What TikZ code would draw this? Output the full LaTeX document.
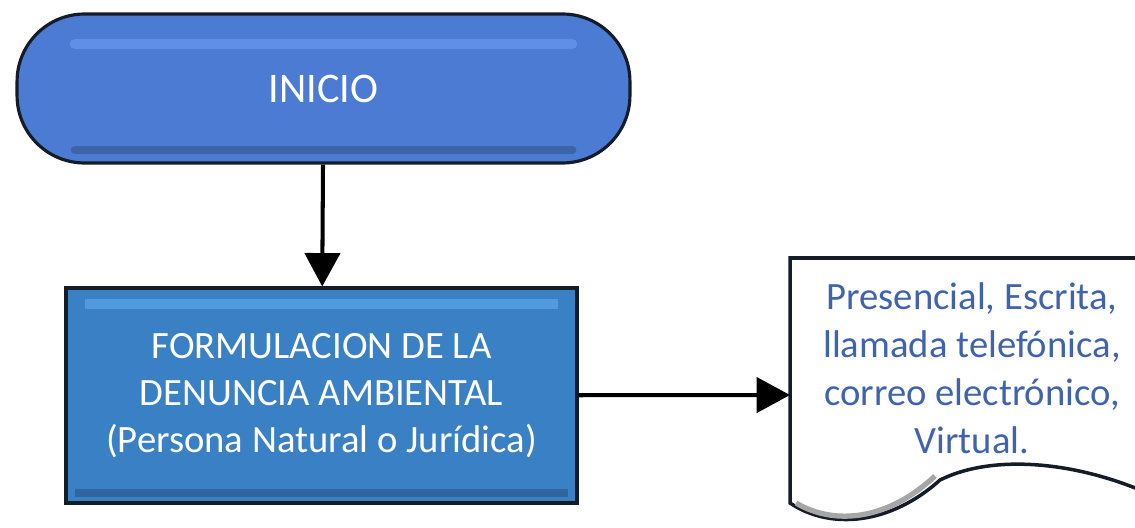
\documentclass[tikz,border=0pt]{standalone}
\usepackage{fontspec}
\setmainfont{Carlito}
\usetikzlibrary{arrows.meta}
\usetikzlibrary{positioning}
\definecolor{inicio-blue}{RGB}{76, 123, 211}
\definecolor{inicio-light}{RGB}{104, 154, 240}
\definecolor{proceso-blue}{RGB}{58, 128, 196}
\definecolor{proceso-light}{RGB}{92, 166, 236}
\definecolor{borde-dark}{RGB}{20, 28, 40}
\definecolor{texto-blue}{RGB}{63, 99, 173}
\tikzset{
  flecha/.style={line width=2.3pt, -{Triangle[length=19pt,width=20pt]}},
  terminal/.style={draw=borde-dark, line width=1.8pt, fill=inicio-blue, rounded corners=1.35cm,
    minimum width=12.26cm, minimum height=2.98cm, text=white, font=\fontsize{24}{28}\selectfont},
  proceso/.style={draw=borde-dark, line width=1.8pt, fill=proceso-blue,
    minimum width=10.22cm, minimum height=4.3cm, text=white, align=center,
    font=\fontsize{22}{26.7}\selectfont},
  doctexto/.style={text=texto-blue, align=center, font=\fontsize{22}{27.3}\selectfont}
}

\begin{document}
\begin{tikzpicture}[x=0.02cm, y=-0.02cm]
\useasboundingbox (0,0) rectangle (1135,527);
\clip (0,0) rectangle (1135,527);
% documento
\filldraw[fill=white, draw=borde-dark, line width=2pt] (790,258) -- (1145,258) -- (1145,492)
  .. controls (1070,460) and (990,455) .. (940,480)
  .. controls (890,525) and (830,530) .. (790,503) -- cycle;
\draw[black!35, line width=3pt] (796,503) .. controls (835,526) and (888,520) .. (935,476);
\node[doctexto] (medios) at (972,368) {Presencial, Escrita,\\llamada telefónica,\\correo electrónico,\\Virtual.};
\coordinate (doc-in) at (790,395);

\node[terminal] (inicio) at (323.5,88.5) {INICIO};
\draw[inicio-light, line width=6pt, opacity=0.7, line cap=round] (75,44) -- (572,44);
\draw[borde-dark, line width=5pt, opacity=0.25, line cap=round] (75,150) -- (572,150);
\node[proceso] (formulacion) at (321.5,395.5) {FORMULACION DE LA\\DENUNCIA AMBIENTAL\\(Persona Natural o Jurídica)};
\draw[proceso-light, line width=6pt, opacity=0.7] (85,304) -- (558,304);
\draw[borde-dark, line width=5pt, opacity=0.25] (75,493) -- (568,493);

\draw[flecha] (inicio) -- (formulacion);
\draw[flecha] (formulacion) -- (doc-in);
\end{tikzpicture}
\end{document}
